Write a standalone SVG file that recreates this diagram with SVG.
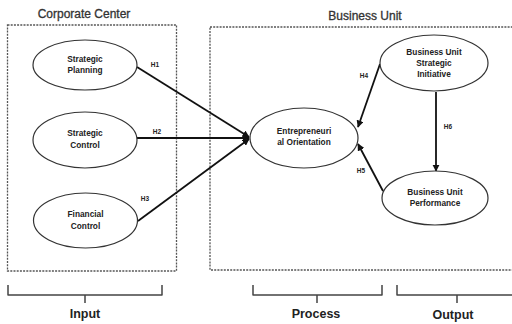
<svg xmlns="http://www.w3.org/2000/svg" width="512" height="324" viewBox="0 0 512 324">
<style>
.box{fill:none;stroke:#555;stroke-width:1.3;stroke-dasharray:2 1.2}
.ell{fill:#fff;stroke:#333;stroke-width:1.2}
.nt{font-family:"Liberation Sans",Arial,sans-serif;font-size:8.3px;font-weight:bold;fill:#222;text-anchor:middle}
.hl{font-family:"Liberation Sans",Arial,sans-serif;font-size:6.5px;font-weight:bold;fill:#222;text-anchor:middle}
.tt{font-family:"Liberation Sans",Arial,sans-serif;font-size:12px;fill:#333;text-anchor:middle;stroke:#333;stroke-width:0.3}
.bl{font-family:"Liberation Sans",Arial,sans-serif;font-size:12.5px;font-weight:bold;fill:#222;text-anchor:middle}
.ln{stroke:#111;stroke-width:1.8;fill:none}
.br{stroke:#444;stroke-width:1.5;fill:none;stroke-linejoin:round}
</style>
<defs>
<marker id="ah" viewBox="0 0 10 10" refX="9" refY="5" markerWidth="4" markerHeight="4" orient="auto" markerUnits="strokeWidth">
<path d="M0,0 L10,5 L0,10 z" fill="#111"/>
</marker>
</defs>
<g id="corporate-center">
<rect class="box" x="7.5" y="25" width="169" height="246"/>
<text class="tt" x="84" y="18">Corporate Center</text>
</g>
<g id="business-unit">
<rect class="box" x="210" y="27" width="320" height="243"/>
<text class="tt" x="365" y="20">Business Unit</text>
</g>
<g id="connectors">
<line class="ln" x1="137" y1="67" x2="249" y2="137" marker-end="url(#ah)"/>
<line class="ln" x1="137" y1="138" x2="249" y2="138" marker-end="url(#ah)"/>
<line class="ln" x1="138" y1="221" x2="249" y2="139" marker-end="url(#ah)"/>
<line class="ln" x1="380" y1="64" x2="358" y2="127" marker-end="url(#ah)"/>
<line class="ln" x1="383" y1="191" x2="358" y2="144" marker-end="url(#ah)"/>
<line class="ln" x1="436" y1="92" x2="436" y2="171" marker-end="url(#ah)"/>
<text class="hl" x="155" y="67">H1</text>
<text class="hl" x="157" y="134">H2</text>
<text class="hl" x="145" y="201">H3</text>
<text class="hl" x="364" y="78">H4</text>
<text class="hl" x="361" y="173">H5</text>
<text class="hl" x="448" y="129">H6</text>
</g>
<g id="strategic-planning">
<ellipse class="ell" cx="85" cy="65" rx="52" ry="25"/>
<text class="nt" x="85" y="62">Strategic</text>
<text class="nt" x="85" y="73">Planning</text>
</g>
<g id="strategic-control">
<ellipse class="ell" cx="85" cy="140" rx="52" ry="28"/>
<text class="nt" x="85" y="136">Strategic</text>
<text class="nt" x="85" y="148">Control</text>
</g>
<g id="financial-control">
<ellipse class="ell" cx="85.5" cy="220.5" rx="52" ry="27.5"/>
<text class="nt" x="85.5" y="217">Financial</text>
<text class="nt" x="85.5" y="229">Control</text>
</g>
<g id="entrepreneurial-orientation">
<ellipse class="ell" cx="304" cy="138" rx="54" ry="30"/>
<text class="nt" x="304" y="134">Entrepreneuri</text>
<text class="nt" x="304" y="145">al Orientation</text>
</g>
<g id="bu-strategic-initiative">
<ellipse class="ell" cx="434" cy="63" rx="54" ry="28"/>
<text class="nt" x="434" y="55">Business Unit</text>
<text class="nt" x="434" y="66">Strategic</text>
<text class="nt" x="434" y="77">Initiative</text>
</g>
<g id="bu-performance">
<ellipse class="ell" cx="435" cy="198" rx="53" ry="27"/>
<text class="nt" x="435" y="195">Business Unit</text>
<text class="nt" x="435" y="206">Performance</text>
</g>
<g id="input">
<path class="br" d="M8,285 V295 H162 V285 M85,295 V303"/>
<text class="bl" x="85" y="318">Input</text>
</g>
<g id="process">
<path class="br" d="M253,285 V295 H382 V285 M317,295 V303"/>
<text class="bl" x="316" y="318">Process</text>
</g>
<g id="output">
<path class="br" d="M397,285 V295 H520 M457,295 V303"/>
<text class="bl" x="453" y="319">Output</text>
</g>
</svg>
